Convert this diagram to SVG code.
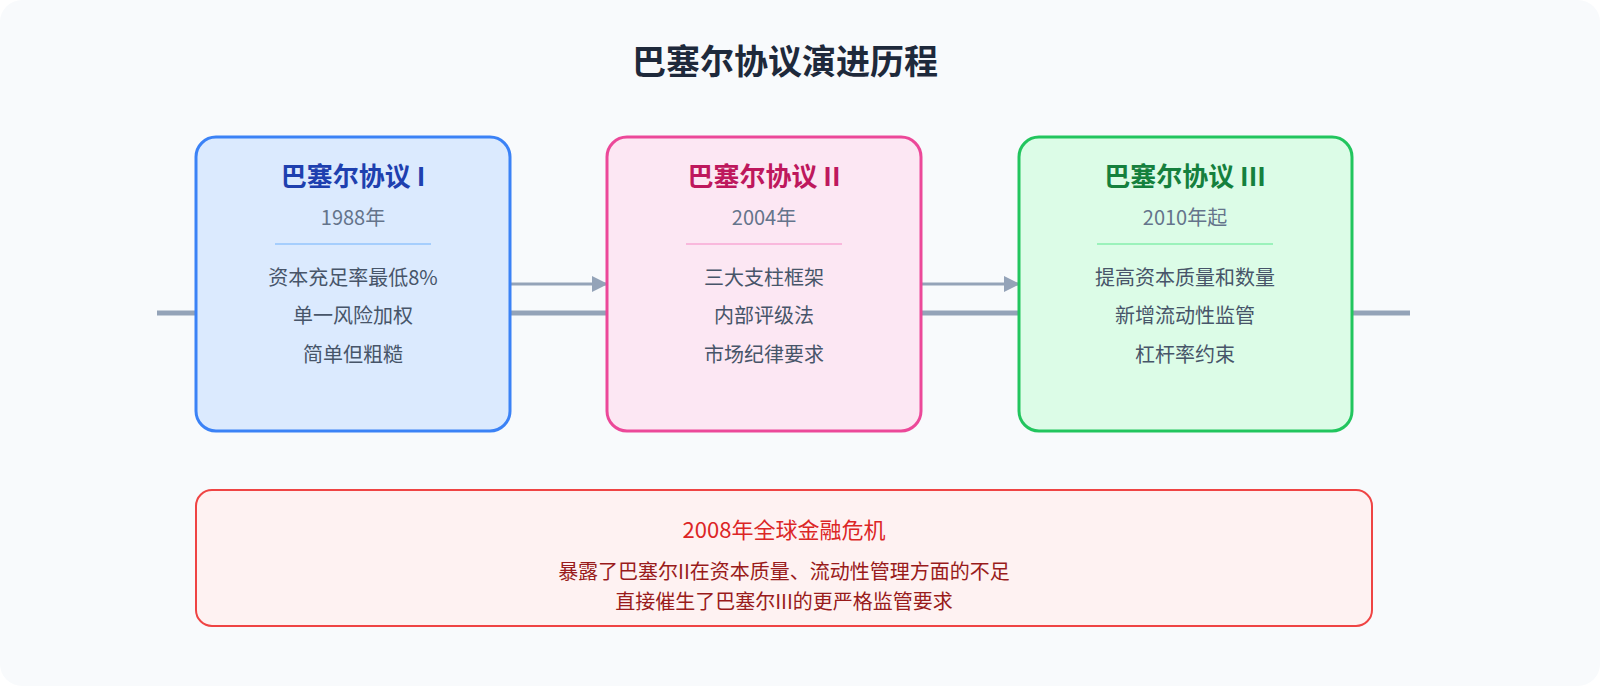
<svg xmlns="http://www.w3.org/2000/svg" width="1600" height="700" viewBox="0 0 1600 700">
<style>
text{font-family:"Noto Sans CJK SC","Noto Sans",sans-serif;text-anchor:middle}
.t{font-size:26px;font-weight:bold}
.y{font-size:20px;fill:#64748b}
.i{font-size:20px;fill:#475569}
</style>
<defs><marker id="ah" markerWidth="10" markerHeight="10" refX="9" refY="5" orient="auto" markerUnits="userSpaceOnUse"><path d="M0,0 L16,5 L0,10z" fill="#94a3b8" transform="scale(0.6,1)"/></marker>
<marker id="a2" markerWidth="16" markerHeight="16" refX="15" refY="8" orient="auto" markerUnits="userSpaceOnUse"><path d="M0,0 L16,8 L0,16z" fill="#94a3b8"/></marker></defs>
<rect x="0" y="0" width="1600" height="686" rx="22" fill="#f8fafc"/>
<text x="785" y="74" style="font-size:34px;font-weight:bold;fill:#1e293b">巴塞尔协议演进历程</text>
<g id="connectors">
<line x1="157" y1="313" x2="1410" y2="313" stroke="#94a3b8" stroke-width="5"/>
<line x1="511" y1="284" x2="607" y2="284" stroke="#94a3b8" stroke-width="3" marker-end="url(#a2)"/>
<line x1="922" y1="284" x2="1019" y2="284" stroke="#94a3b8" stroke-width="3" marker-end="url(#a2)"/>
</g>
<g id="basel1">
<rect x="196" y="137" width="314" height="294" rx="20" fill="#dbeafe" stroke="#3b82f6" stroke-width="3"/>
<text x="353" y="186" class="t" fill="#1e40af">巴塞尔协议 I</text>
<text x="353" y="225" class="y">1988年</text>
<line x1="275" y1="244" x2="431" y2="244" stroke="#93c5fd" stroke-width="1.5"/>
<text x="353" y="285" class="i">资本充足率最低8%</text>
<text x="353" y="323" class="i">单一风险加权</text>
<text x="353" y="362" class="i">简单但粗糙</text>
</g>
<g id="basel2">
<rect x="607" y="137" width="314" height="294" rx="20" fill="#fce7f3" stroke="#ec4899" stroke-width="3"/>
<text x="764" y="186" class="t" fill="#be185d">巴塞尔协议 II</text>
<text x="764" y="225" class="y">2004年</text>
<line x1="686" y1="244" x2="842" y2="244" stroke="#f9a8d4" stroke-width="1.5"/>
<text x="764" y="285" class="i">三大支柱框架</text>
<text x="764" y="323" class="i">内部评级法</text>
<text x="764" y="362" class="i">市场纪律要求</text>
</g>
<g id="basel3">
<rect x="1019" y="137" width="333" height="294" rx="20" fill="#dcfce7" stroke="#22c55e" stroke-width="3"/>
<text x="1185" y="186" class="t" fill="#15803d">巴塞尔协议 III</text>
<text x="1185" y="225" class="y">2010年起</text>
<line x1="1097" y1="244" x2="1273" y2="244" stroke="#86efac" stroke-width="1.5"/>
<text x="1185" y="285" class="i">提高资本质量和数量</text>
<text x="1185" y="323" class="i">新增流动性监管</text>
<text x="1185" y="362" class="i">杠杆率约束</text>
</g>
<g id="crisis">
<rect x="196" y="490" width="1176" height="136" rx="16" fill="#fef2f2" stroke="#ef4444" stroke-width="2"/>
<text x="784" y="538" style="font-size:22px;fill:#dc2626">2008年全球金融危机</text>
<text x="784" y="579" style="font-size:20px;fill:#991b1b">暴露了巴塞尔II在资本质量、流动性管理方面的不足</text>
<text x="784" y="609" style="font-size:20px;fill:#991b1b">直接催生了巴塞尔III的更严格监管要求</text>
</g>
</svg>
